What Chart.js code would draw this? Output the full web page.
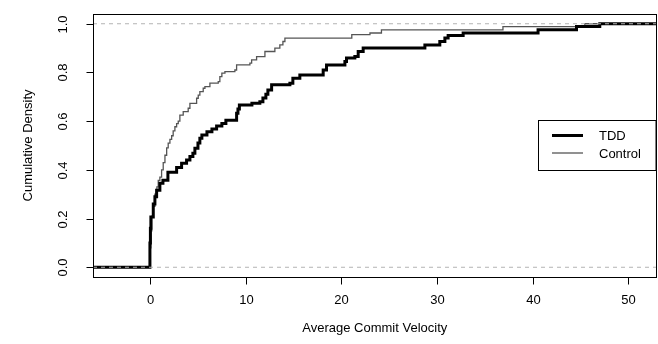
<!DOCTYPE html>
<html>
<head>
<meta charset="utf-8">
<script src="https://cdn.jsdelivr.net/npm/chart.js@4/dist/chart.umd.min.js"></script>
<style>
html,body{margin:0;padding:0;background:#fff;}
#wrap{width:658px;height:344px;}
</style>
</head>
<body>
<div id="wrap"><canvas id="c" width="658" height="344"></canvas></div>
<script>
// ---- data (step positions of the two ECDFs) ----
const tddX = [0, 0.05, 0.1, 0.35, 0.52, 0.7, 1.04, 1.36, 1.88, 2.79, 3.31, 3.83, 4.18, 4.49, 4.70, 5.02, 5.22, 5.43, 5.96, 6.48, 6.97, 7.52, 7.94, 9.06, 9.2, 9.35, 10.66, 11.49, 11.81, 12.12, 12.33, 12.72, 14.63, 14.94, 15.67, 18.11, 18.46, 20.38, 20.55, 21.42, 21.77, 22.29, 28.74, 30.3, 30.83, 31.17, 32.74, 40.57, 44.59, 47.02];
const tddY = [0.10, 0.16, 0.206, 0.26, 0.29, 0.316, 0.345, 0.357, 0.39, 0.41, 0.427, 0.44, 0.455, 0.468, 0.489, 0.51, 0.53, 0.543, 0.556, 0.568, 0.58, 0.59, 0.604, 0.632, 0.65, 0.666, 0.673, 0.68, 0.695, 0.71, 0.728, 0.749, 0.756, 0.776, 0.79, 0.81, 0.831, 0.845, 0.859, 0.865, 0.886, 0.9, 0.913, 0.927, 0.941, 0.952, 0.962, 0.975, 0.989, 1.0];
const ctrlX = [0, 0.1, 0.2, 0.31, 0.52, 0.73, 0.87, 1.04, 1.22, 1.39, 1.57, 1.75, 1.91, 2.09, 2.27, 2.43, 2.61, 2.79, 2.96, 3.13, 3.48, 4.0, 4.18, 4.88, 5.05, 5.22, 5.57, 5.75, 6.27, 7.14, 7.31, 7.52, 7.84, 8.88, 9.06, 10.45, 10.63, 11.15, 12.02, 13.06, 13.58, 13.9, 14.11, 21.1, 23.0, 24.2, 36.9, 45.45];
const ctrlY = [0.08, 0.15, 0.21, 0.25, 0.30, 0.33, 0.357, 0.37, 0.40, 0.43, 0.46, 0.49, 0.51, 0.525, 0.54, 0.56, 0.577, 0.59, 0.60, 0.625, 0.639, 0.653, 0.673, 0.694, 0.707, 0.721, 0.735, 0.742, 0.756, 0.762, 0.783, 0.797, 0.803, 0.81, 0.831, 0.838, 0.852, 0.865, 0.886, 0.9, 0.913, 0.927, 0.941, 0.955, 0.962, 0.975, 0.988, 1.0];
const seriesNames = ['TDD', 'Control'];
const xTicks = [0, 10, 20, 30, 40, 50];
const xTickLabels = ['0', '10', '20', '30', '40', '50'];
const yTicks = [0, 0.2, 0.4, 0.6, 0.8, 1.0];
const yTickLabels = ['0.0', '0.2', '0.4', '0.6', '0.8', '1.0'];
const refLines = [0, 1];
const xTitle = 'Average Commit Velocity';
const yTitle = 'Cumulative Density';
const xRange = [-5.95, 52.95];
const yRange = [-0.04, 1.04];

// ---- build step data ----
function ecdf(xs, ys) {
  const pts = [{x: xRange[0], y: 0}];
  xs.forEach((x, i) => pts.push({x: x, y: ys[i]}));
  pts.push({x: xRange[1], y: ys[ys.length - 1]});
  return pts;
}
const FONT = '"Liberation Sans", Arial, sans-serif';

const axesPlugin = {
  id: 'rAxes',
  beforeDraw(chart) {
    const ctx = chart.ctx;
    ctx.save();
    ctx.fillStyle = '#fff';
    ctx.fillRect(0, 0, chart.width, chart.height);
    ctx.restore();
  },
  afterDraw(chart) {
    const ctx = chart.ctx;
    const a = chart.chartArea;
    const xs = chart.scales.x, ys = chart.scales.y;
    ctx.save();
    ctx.strokeStyle = '#000';
    ctx.lineWidth = 1;
    // box
    ctx.strokeRect(Math.round(a.left) + 0.5, Math.round(a.top) + 0.5,
                   Math.round(a.right - a.left) - 1, Math.round(a.bottom - a.top));
    // x axis
    const xb = Math.round(a.bottom) + 0.5;
    const x0 = xs.getPixelForValue(xTicks[0]), x1 = xs.getPixelForValue(xTicks[xTicks.length - 1]);
    ctx.beginPath(); ctx.moveTo(x0, xb); ctx.lineTo(x1, xb); ctx.stroke();
    ctx.fillStyle = '#000';
    ctx.font = '13px ' + FONT;
    ctx.textAlign = 'center'; ctx.textBaseline = 'middle';
    xTicks.forEach((v, i) => {
      const px = Math.round(xs.getPixelForValue(v)) + 0.5;
      ctx.beginPath(); ctx.moveTo(px, xb); ctx.lineTo(px, xb + 7); ctx.stroke();
      ctx.fillText(xTickLabels[i], px, 300);
    });
    ctx.fillText(xTitle, (a.left + a.right) / 2, 328);
    // y axis
    const yl = Math.round(a.left) + 0.5;
    const y0 = ys.getPixelForValue(yTicks[0]), y1 = ys.getPixelForValue(yTicks[yTicks.length - 1]);
    ctx.beginPath(); ctx.moveTo(yl, y0); ctx.lineTo(yl, y1); ctx.stroke();
    yTicks.forEach((v, i) => {
      const py = Math.round(ys.getPixelForValue(v)) + 0.5;
      ctx.beginPath(); ctx.moveTo(yl, py); ctx.lineTo(yl - 7, py); ctx.stroke();
      ctx.save();
      ctx.translate(63, py);
      ctx.rotate(-Math.PI / 2);
      ctx.fillText(yTickLabels[i], 0, 0);
      ctx.restore();
    });
    ctx.save();
    ctx.translate(28, (a.top + a.bottom) / 2);
    ctx.rotate(-Math.PI / 2);
    ctx.fillText(yTitle, 0, 0);
    ctx.restore();
    // legend
    const lx = 538.5, ly = 120.5, lw = a.right - 538.5 - 0.5, lh = 50;
    ctx.fillStyle = '#fff';
    ctx.fillRect(lx, ly, lw, lh);
    ctx.strokeStyle = '#000';
    ctx.strokeRect(lx, ly, lw, lh);
    ctx.lineWidth = 3;
    ctx.strokeStyle = '#000';
    ctx.beginPath(); ctx.moveTo(552, 135.5); ctx.lineTo(583, 135.5); ctx.stroke();
    ctx.lineWidth = 1.3;
    ctx.strokeStyle = '#555';
    ctx.beginPath(); ctx.moveTo(552, 153); ctx.lineTo(583, 153); ctx.stroke();
    ctx.fillStyle = '#000';
    ctx.textAlign = 'left';
    ctx.fillText(seriesNames[0], 599, 136);
    ctx.fillText(seriesNames[1], 599, 154);
    ctx.restore();
  }
};

const refSets = refLines.map(v => ({
  label: 'ref' + v,
  data: [{x: xRange[0], y: v}, {x: xRange[1], y: v}],
  borderColor: '#b3b3b3',
  borderWidth: 1,
  borderDash: [4, 4],
  pointRadius: 0,
  fill: false
}));

new Chart(document.getElementById('c'), {
  type: 'line',
  data: {
    datasets: [
      ...refSets,
      {
        label: seriesNames[0],
        data: ecdf(tddX, tddY),
        stepped: 'before',
        borderColor: '#000',
        borderWidth: 3,
        pointRadius: 0,
        fill: false
      },
      {
        label: seriesNames[1],
        data: ecdf(ctrlX, ctrlY),
        stepped: 'before',
        borderColor: '#555',
        borderWidth: 1.3,
        pointRadius: 0,
        fill: false
      }
    ]
  },
  options: {
    responsive: false,
    animation: false,
    events: [],
    layout: {padding: {left: 93, right: 1.5, top: 14, bottom: 67}},
    plugins: {legend: {display: false}, tooltip: {enabled: false}},
    scales: {
      x: {type: 'linear', min: xRange[0], max: xRange[1], display: false},
      y: {type: 'linear', min: yRange[0], max: yRange[1], display: false}
    }
  },
  plugins: [axesPlugin]
});
</script>
</body>
</html>
